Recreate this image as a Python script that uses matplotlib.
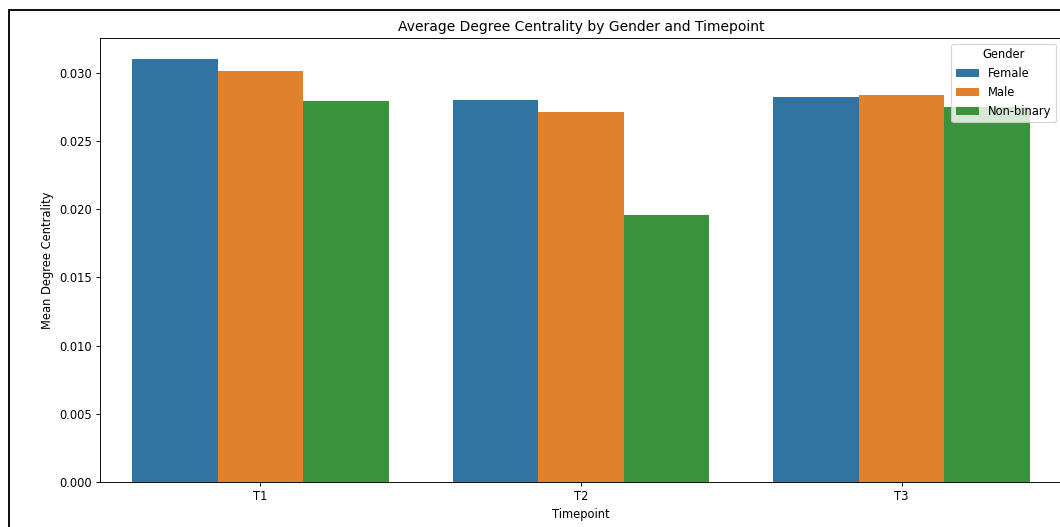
import matplotlib
matplotlib.use("Agg")
import matplotlib.pyplot as plt
import pandas as pd
import seaborn as sns
from matplotlib.patches import Rectangle

timepoints = ["T1", "T2", "T3"]
genders = ["Female", "Male", "Non-binary"]
female = [0.0310, 0.0280, 0.0282]
male = [0.0301, 0.0271, 0.0284]
non_binary = [0.0279, 0.0196, 0.0275]

rows = []
for g, vals in zip(genders, [female, male, non_binary]):
    for t, v in zip(timepoints, vals):
        rows.append({"Timepoint": t, "Gender": g, "value": v})
df = pd.DataFrame(rows)

dpi = 83
fig = plt.figure(figsize=(1060 / dpi, 527 / dpi), dpi=dpi)
ax = fig.add_axes([100 / 1060, 1 - 482 / 527, 962 / 1060, 444 / 527])

sns.barplot(data=df, x="Timepoint", y="value", hue="Gender",
            hue_order=genders, order=timepoints, ax=ax)
ax.set_title("Average Degree Centrality by Gender and Timepoint")
ax.set_xlabel("Timepoint")
ax.set_ylabel("Mean Degree Centrality")
ax.legend(title="Gender", loc="upper right")

# screenshot frame
fig.patches.append(Rectangle((8.5 / 1060, -0.1), 1.2, 1 - 9.5 / 527 + 0.1,
                             transform=fig.transFigure, fill=False,
                             edgecolor="black", linewidth=1.6))

fig.savefig("out.png", dpi=dpi)
